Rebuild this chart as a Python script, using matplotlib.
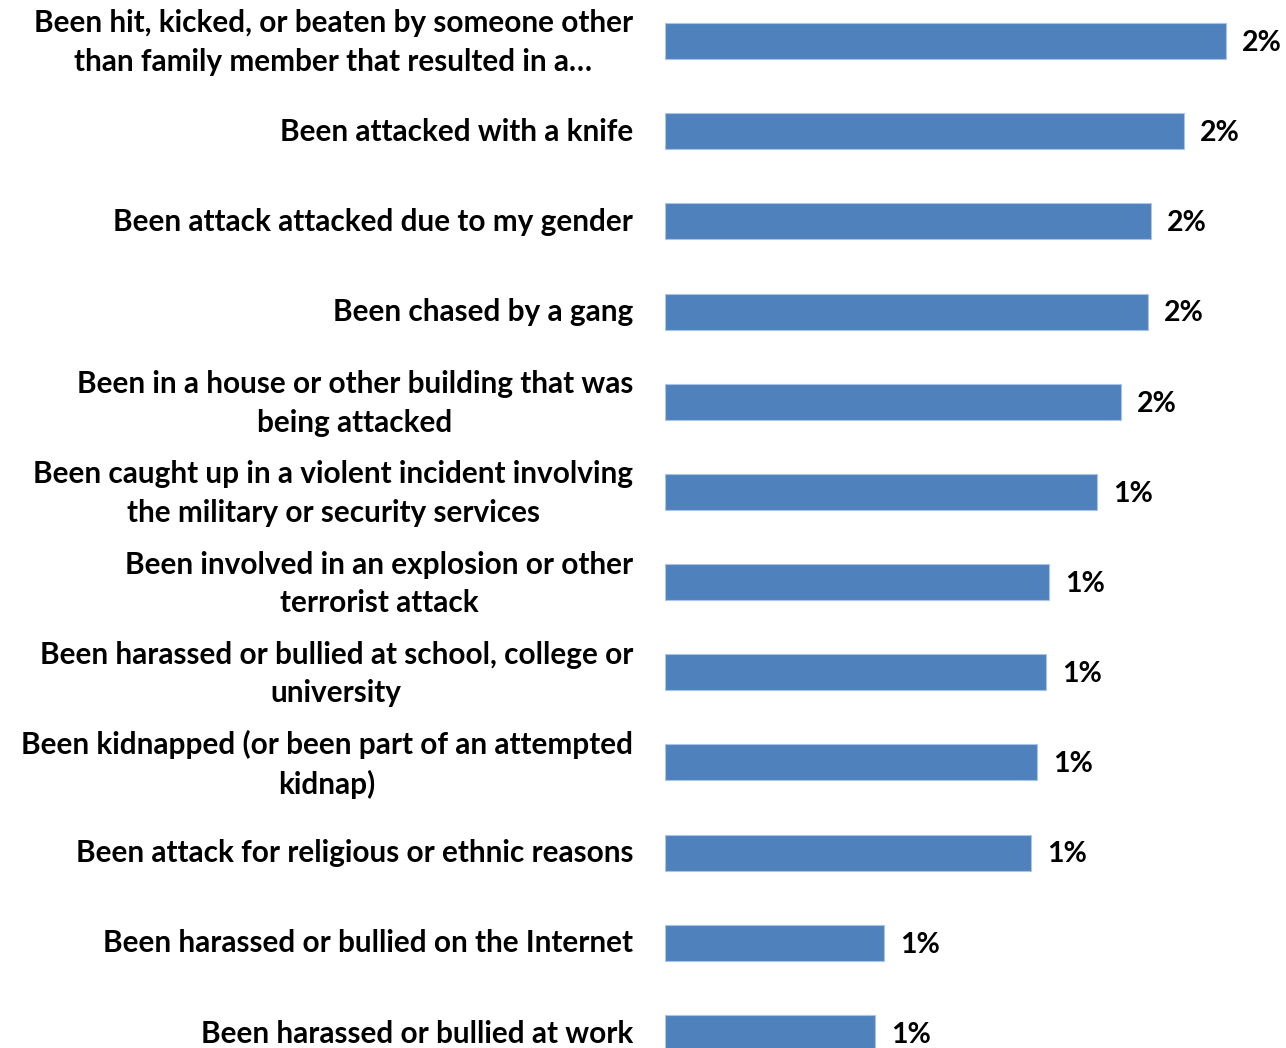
import matplotlib.pyplot as plt
from matplotlib.transforms import ScaledTranslation

labels = [
    "Been hit, kicked, or beaten by someone other\nthan family member that resulted in a\u2026",
    "Been attacked with a knife",
    "Been attack attacked due to my gender",
    "Been chased by a gang",
    "Been in a house or other building that was\nbeing attacked",
    "Been caught up in a violent incident involving\nthe military or security services",
    "Been involved in an explosion or other\nterrorist attack",
    "Been harassed or bullied at school, college or\nuniversity",
    "Been kidnapped (or been part of an attempted\nkidnap)",
    "Been attack for religious or ethnic reasons",
    "Been harassed or bullied on the Internet",
    "Been harassed or bullied at work",
]
values = [1.87, 1.73, 1.62, 1.61, 1.52, 1.44, 1.28, 1.27, 1.24, 1.22, 0.73, 0.70]
value_labels = ["2%", "2%", "2%", "2%", "2%", "1%", "1%", "1%", "1%", "1%", "1%", "1%"]

plt.rcParams['font.family'] = ['Lato', 'DejaVu Sans']

fig = plt.figure(figsize=(12.86, 10.48), dpi=100)
ax = fig.add_axes([665 / 1286, 0, 1 - 665 / 1286, 1])

pos = list(range(len(labels)))
ax.barh(pos, values, height=0.4, color='#4F81BD', edgecolor='#A9C4E6', linewidth=0.8)

for p, v, t in zip(pos, values, value_labels):
    ax.text(v + 0.053, p + 0.02, t, va='center', ha='left', fontsize=20.5, fontweight='bold')

ax.set_xlim(0, 621 / 300)
ax.set_ylim(11 + 15 / 90.2, -41 / 90.2)
ax.set_yticks(pos)
ax.set_yticklabels(labels, fontsize=21.4, fontweight='bold', multialignment='center',
                   linespacing=1.45)
ax.tick_params(axis='y', length=0, pad=23)
# two-line labels sit a little high in the original
for lbl in ax.get_yticklabels():
    if '\n' in lbl.get_text():
        lbl.set_transform(lbl.get_transform() + ScaledTranslation(0, 0.06, fig.dpi_scale_trans))
    else:
        lbl.set_transform(lbl.get_transform() + ScaledTranslation(0, 0.02, fig.dpi_scale_trans))
ax.set_xticks([])
for s in ax.spines.values():
    s.set_visible(False)

fig.savefig('out.png', dpi=100)
